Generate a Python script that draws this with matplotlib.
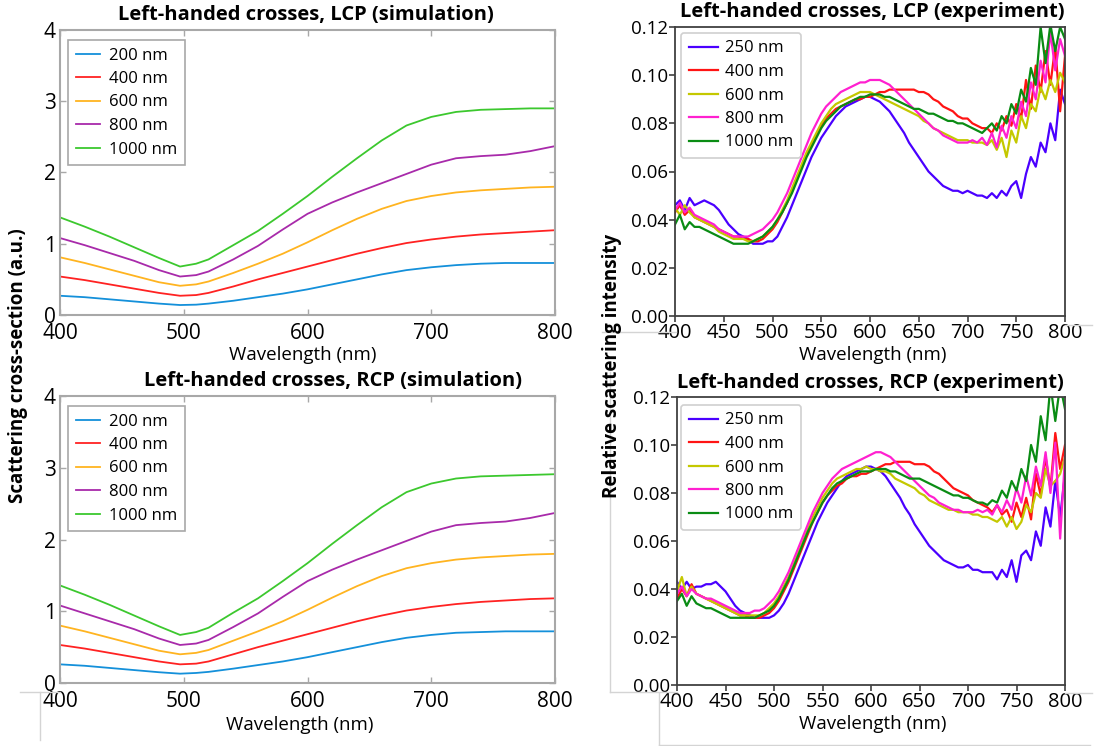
import numpy as np
import matplotlib
matplotlib.use("Agg")
import matplotlib.pyplot as plt
from matplotlib.lines import Line2D

plt.rcParams['font.family'] = ['Open Sans', 'DejaVu Sans']

# ---------------- simulation data ----------------
sim_wl = [400, 420, 440, 460, 480, 497, 510, 520, 540, 560, 580, 600, 620, 640, 660, 680, 700, 720, 740, 760, 780, 800]
sim_labels = ["200 nm", "400 nm", "600 nm", "800 nm", "1000 nm"]

lcp_200 = [0.27, 0.25, 0.22, 0.19, 0.16, 0.14, 0.145, 0.16, 0.20, 0.25, 0.30, 0.36, 0.43, 0.50, 0.57, 0.63, 0.67, 0.70, 0.72, 0.73, 0.73, 0.73]
lcp_400 = [0.54, 0.49, 0.43, 0.37, 0.31, 0.27, 0.28, 0.31, 0.40, 0.50, 0.59, 0.68, 0.77, 0.86, 0.94, 1.01, 1.06, 1.10, 1.13, 1.15, 1.17, 1.19]
lcp_600 = [0.81, 0.73, 0.64, 0.55, 0.46, 0.41, 0.43, 0.47, 0.59, 0.72, 0.86, 1.02, 1.19, 1.35, 1.49, 1.60, 1.67, 1.72, 1.75, 1.77, 1.79, 1.80]
lcp_800 = [1.08, 0.98, 0.87, 0.76, 0.63, 0.54, 0.56, 0.61, 0.78, 0.97, 1.20, 1.42, 1.58, 1.72, 1.85, 1.98, 2.11, 2.20, 2.23, 2.25, 2.30, 2.37]
lcp_1000 = [1.37, 1.24, 1.10, 0.95, 0.80, 0.68, 0.72, 0.78, 0.98, 1.18, 1.42, 1.67, 1.94, 2.20, 2.45, 2.66, 2.78, 2.85, 2.88, 2.89, 2.90, 2.90]

rcp_200 = [0.26, 0.24, 0.21, 0.18, 0.15, 0.13, 0.14, 0.155, 0.20, 0.25, 0.30, 0.36, 0.43, 0.50, 0.57, 0.63, 0.67, 0.70, 0.71, 0.72, 0.72, 0.72]
rcp_400 = [0.53, 0.48, 0.42, 0.36, 0.30, 0.26, 0.27, 0.30, 0.40, 0.50, 0.59, 0.68, 0.77, 0.86, 0.94, 1.01, 1.06, 1.10, 1.13, 1.15, 1.17, 1.18]
rcp_600 = [0.80, 0.72, 0.63, 0.54, 0.45, 0.40, 0.42, 0.46, 0.59, 0.72, 0.86, 1.02, 1.19, 1.35, 1.49, 1.60, 1.67, 1.72, 1.75, 1.77, 1.79, 1.80]
rcp_800 = [1.08, 0.97, 0.86, 0.75, 0.62, 0.53, 0.55, 0.60, 0.78, 0.97, 1.20, 1.42, 1.58, 1.72, 1.85, 1.98, 2.11, 2.20, 2.23, 2.25, 2.30, 2.37]
rcp_1000 = [1.36, 1.23, 1.09, 0.94, 0.79, 0.67, 0.71, 0.77, 0.98, 1.18, 1.42, 1.67, 1.94, 2.20, 2.45, 2.66, 2.78, 2.85, 2.88, 2.89, 2.90, 2.91]

# ---------------- experiment data (every 5 nm, 400..800) ----------------
exp_wl = np.arange(400, 801, 5)
exp_labels = ["250 nm", "400 nm", "600 nm", "800 nm", "1000 nm"]

lcp_e250 = [0.046, 0.048, 0.044, 0.049, 0.046, 0.047, 0.048, 0.047, 0.046, 0.044, 0.041, 0.038, 0.036, 0.034, 0.033, 0.032,
            0.030, 0.030, 0.030, 0.031, 0.031, 0.033, 0.037, 0.041, 0.046, 0.051, 0.056, 0.061, 0.066, 0.070, 0.074, 0.077,
            0.080, 0.083, 0.085, 0.087, 0.088, 0.089, 0.090, 0.091, 0.091, 0.090, 0.089, 0.087, 0.085, 0.082, 0.079, 0.076,
            0.072, 0.069, 0.066, 0.063, 0.060, 0.058, 0.056, 0.054, 0.053, 0.052, 0.052, 0.051, 0.052, 0.051, 0.050, 0.050,
            0.049, 0.051, 0.049, 0.052, 0.050, 0.054, 0.056, 0.049, 0.059, 0.066, 0.062, 0.072, 0.068, 0.080, 0.073, 0.094, 0.088]
lcp_e400 = [0.043, 0.046, 0.042, 0.044, 0.041, 0.040, 0.039, 0.038, 0.037, 0.036, 0.035, 0.034, 0.033, 0.033, 0.032, 0.032,
            0.031, 0.031, 0.032, 0.034, 0.036, 0.039, 0.043, 0.047, 0.052, 0.057, 0.062, 0.067, 0.071, 0.075, 0.079, 0.082,
            0.084, 0.086, 0.087, 0.088, 0.089, 0.090, 0.090, 0.091, 0.091, 0.092, 0.093, 0.093, 0.094, 0.094, 0.094, 0.094,
            0.094, 0.094, 0.093, 0.093, 0.092, 0.090, 0.089, 0.087, 0.086, 0.085, 0.083, 0.082, 0.082, 0.080, 0.079, 0.078,
            0.078, 0.076, 0.080, 0.077, 0.083, 0.079, 0.088, 0.082, 0.098, 0.086, 0.104, 0.093, 0.110, 0.096, 0.112, 0.085, 0.108]
lcp_e600 = [0.045, 0.042, 0.046, 0.043, 0.041, 0.040, 0.039, 0.038, 0.037, 0.035, 0.034, 0.033, 0.032, 0.032, 0.032, 0.031,
            0.031, 0.032, 0.033, 0.035, 0.037, 0.040, 0.044, 0.048, 0.053, 0.058, 0.063, 0.068, 0.072, 0.076, 0.080, 0.083,
            0.086, 0.088, 0.089, 0.090, 0.091, 0.092, 0.093, 0.093, 0.093, 0.092, 0.091, 0.090, 0.089, 0.088, 0.087, 0.086,
            0.085, 0.084, 0.083, 0.081, 0.080, 0.078, 0.077, 0.076, 0.075, 0.074, 0.073, 0.073, 0.073, 0.072, 0.072, 0.072,
            0.071, 0.073, 0.069, 0.074, 0.066, 0.077, 0.072, 0.083, 0.078, 0.088, 0.085, 0.095, 0.090, 0.098, 0.093, 0.101, 0.097]
lcp_e800 = [0.044, 0.047, 0.043, 0.045, 0.042, 0.041, 0.040, 0.039, 0.038, 0.036, 0.035, 0.034, 0.033, 0.033, 0.033, 0.033,
            0.034, 0.035, 0.036, 0.038, 0.040, 0.043, 0.047, 0.051, 0.056, 0.061, 0.066, 0.071, 0.076, 0.080, 0.084, 0.087,
            0.089, 0.091, 0.093, 0.094, 0.095, 0.096, 0.097, 0.097, 0.098, 0.098, 0.098, 0.097, 0.096, 0.094, 0.092, 0.090,
            0.088, 0.086, 0.084, 0.082, 0.080, 0.078, 0.077, 0.075, 0.074, 0.073, 0.072, 0.072, 0.072, 0.073, 0.072, 0.074,
            0.071, 0.076, 0.070, 0.079, 0.074, 0.083, 0.078, 0.089, 0.083, 0.097, 0.090, 0.106, 0.097, 0.118, 0.102, 0.115, 0.108]
lcp_e1000 = [0.038, 0.042, 0.036, 0.039, 0.037, 0.037, 0.036, 0.035, 0.034, 0.033, 0.032, 0.031, 0.030, 0.030, 0.030, 0.030,
             0.031, 0.032, 0.033, 0.035, 0.037, 0.040, 0.043, 0.047, 0.051, 0.056, 0.061, 0.066, 0.070, 0.074, 0.078, 0.081,
             0.083, 0.085, 0.087, 0.088, 0.089, 0.090, 0.091, 0.091, 0.092, 0.092, 0.092, 0.091, 0.091, 0.090, 0.089, 0.088,
             0.087, 0.086, 0.086, 0.085, 0.084, 0.084, 0.083, 0.082, 0.081, 0.081, 0.080, 0.080, 0.079, 0.078, 0.077, 0.076,
             0.078, 0.080, 0.077, 0.083, 0.080, 0.088, 0.084, 0.094, 0.089, 0.103, 0.096, 0.120, 0.105, 0.121, 0.110, 0.120, 0.115]

rcp_e250 = [0.043, 0.040, 0.043, 0.040, 0.041, 0.041, 0.042, 0.042, 0.043, 0.041, 0.039, 0.036, 0.033, 0.031, 0.030, 0.029,
            0.028, 0.028, 0.028, 0.028, 0.029, 0.031, 0.034, 0.038, 0.043, 0.048, 0.053, 0.058, 0.063, 0.068, 0.072, 0.076,
            0.079, 0.082, 0.085, 0.087, 0.088, 0.089, 0.090, 0.091, 0.091, 0.090, 0.089, 0.087, 0.084, 0.081, 0.078, 0.074,
            0.071, 0.067, 0.064, 0.061, 0.058, 0.056, 0.054, 0.052, 0.051, 0.050, 0.049, 0.049, 0.050, 0.048, 0.048, 0.047,
            0.047, 0.047, 0.044, 0.048, 0.045, 0.052, 0.043, 0.054, 0.056, 0.052, 0.064, 0.058, 0.074, 0.066, 0.085, 0.070, 0.088]
rcp_e400 = [0.036, 0.040, 0.037, 0.042, 0.038, 0.037, 0.036, 0.035, 0.034, 0.033, 0.032, 0.031, 0.030, 0.029, 0.029, 0.028,
            0.028, 0.028, 0.029, 0.030, 0.032, 0.035, 0.039, 0.043, 0.048, 0.053, 0.058, 0.063, 0.068, 0.072, 0.076, 0.079,
            0.081, 0.083, 0.084, 0.086, 0.087, 0.087, 0.088, 0.088, 0.089, 0.090, 0.091, 0.092, 0.092, 0.093, 0.093, 0.093,
            0.093, 0.092, 0.092, 0.092, 0.091, 0.089, 0.088, 0.086, 0.084, 0.082, 0.081, 0.080, 0.079, 0.077, 0.076, 0.075,
            0.074, 0.072, 0.075, 0.071, 0.073, 0.068, 0.076, 0.070, 0.078, 0.069, 0.088, 0.079, 0.095, 0.082, 0.105, 0.090, 0.100]
rcp_e600 = [0.039, 0.045, 0.037, 0.041, 0.038, 0.037, 0.036, 0.035, 0.034, 0.033, 0.032, 0.031, 0.030, 0.029, 0.029, 0.029,
            0.029, 0.029, 0.030, 0.032, 0.034, 0.037, 0.041, 0.045, 0.050, 0.055, 0.060, 0.065, 0.070, 0.074, 0.078, 0.081,
            0.084, 0.086, 0.087, 0.088, 0.089, 0.090, 0.090, 0.091, 0.090, 0.090, 0.089, 0.089, 0.088, 0.086, 0.085, 0.084,
            0.083, 0.082, 0.080, 0.079, 0.077, 0.076, 0.075, 0.074, 0.073, 0.073, 0.072, 0.072, 0.072, 0.071, 0.071, 0.070,
            0.070, 0.069, 0.068, 0.070, 0.066, 0.070, 0.065, 0.068, 0.075, 0.072, 0.080, 0.078, 0.090, 0.083, 0.085, 0.088, 0.095]
rcp_e800 = [0.038, 0.041, 0.037, 0.040, 0.038, 0.037, 0.036, 0.036, 0.035, 0.034, 0.033, 0.032, 0.031, 0.030, 0.030, 0.030,
            0.031, 0.031, 0.032, 0.034, 0.036, 0.039, 0.043, 0.047, 0.052, 0.057, 0.062, 0.067, 0.072, 0.076, 0.080, 0.083,
            0.086, 0.088, 0.090, 0.091, 0.092, 0.093, 0.094, 0.095, 0.096, 0.097, 0.097, 0.096, 0.095, 0.093, 0.091, 0.089,
            0.087, 0.085, 0.083, 0.081, 0.079, 0.078, 0.076, 0.075, 0.074, 0.073, 0.073, 0.072, 0.072, 0.072, 0.073, 0.072,
            0.073, 0.071, 0.075, 0.072, 0.077, 0.073, 0.082, 0.076, 0.087, 0.079, 0.091, 0.083, 0.097, 0.080, 0.101, 0.061, 0.095]
rcp_e1000 = [0.035, 0.038, 0.033, 0.037, 0.034, 0.033, 0.032, 0.032, 0.031, 0.030, 0.029, 0.028, 0.028, 0.028, 0.028, 0.028,
             0.028, 0.029, 0.030, 0.031, 0.033, 0.036, 0.040, 0.044, 0.049, 0.054, 0.059, 0.064, 0.068, 0.072, 0.076, 0.079,
             0.082, 0.084, 0.085, 0.086, 0.087, 0.088, 0.089, 0.089, 0.089, 0.090, 0.090, 0.090, 0.089, 0.089, 0.088, 0.087,
             0.086, 0.086, 0.086, 0.085, 0.084, 0.083, 0.082, 0.081, 0.080, 0.079, 0.079, 0.078, 0.078, 0.077, 0.076, 0.076,
             0.075, 0.077, 0.076, 0.081, 0.078, 0.085, 0.081, 0.090, 0.085, 0.100, 0.093, 0.112, 0.102, 0.125, 0.110, 0.125, 0.115]

sim_colors = ['#1490DA', '#FF2222', '#FFB420', '#A82AAA', '#3CC82E']
exp_colors = ['#4A00FF', '#FF1414', '#C4C800', '#FF20D0', '#0A8C14']

W, H = 1097, 746
fig = plt.figure(figsize=(W / 100, H / 100), dpi=100)


def fx(px):
    return px / W


def fy(py):
    return 1 - py / H


def box(l, t, r, b):
    return [fx(l), fy(b), fx(r) - fx(l), fy(t) - fy(b)]


def add_legend(ax, xy, fancy, edge, hlen, tpad):
    leg = ax.legend(loc='upper left', bbox_to_anchor=(fx(xy[0]), fy(xy[1])),
                    bbox_transform=fig.transFigure, borderaxespad=0, fontsize=12,
                    fancybox=fancy, edgecolor=edge, framealpha=1, handlelength=hlen,
                    handletextpad=tpad, labelspacing=0.45, borderpad=0.45)
    leg.get_frame().set_linewidth(1.2)


def sim_axes(rect, series, title, title_xy, xlab_xy, leg_xy):
    ax = fig.add_axes(rect)
    for vals, c, lab in zip(series, sim_colors, sim_labels):
        ax.plot(sim_wl, vals, color=c, lw=1.3, label=lab)
    ax.set_xlim(400, 800)
    ax.set_ylim(0, 4)
    ax.set_xticks([400, 500, 600, 700, 800])
    ax.set_yticks([0, 1, 2, 3, 4])
    for s in ax.spines.values():
        s.set_color('#a8a8a8')
        s.set_linewidth(1.5)
    ax.tick_params(direction='in', length=4, width=1, color='#a8a8a8', labelsize=15,
                   top=True, right=True)
    ax.tick_params(axis='y', pad=3)
    ax.tick_params(axis='x', pad=6)
    add_legend(ax, leg_xy, False, '#a8a8a8', 1.45, 0.55)
    fig.text(fx(title_xy[0]), fy(title_xy[1]), title, ha='center', va='center', fontsize=14.5, weight='bold')
    fig.text(fx(xlab_xy[0]), fy(xlab_xy[1]), "Wavelength (nm)", ha='center', va='center', fontsize=13.5)
    return ax


def exp_axes(rect, series, title, title_xy, xlab_xy, leg_xy):
    ax = fig.add_axes(rect)
    for vals, c, lab in zip(series, exp_colors, exp_labels):
        ax.plot(exp_wl, vals, color=c, lw=1.6, label=lab)
    ax.set_xlim(400, 800)
    ax.set_ylim(0, 0.12)
    ax.set_xticks(np.arange(400, 801, 50))
    ax.set_yticks([0, 0.02, 0.04, 0.06, 0.08, 0.10, 0.12])
    ax.yaxis.set_major_formatter(matplotlib.ticker.FormatStrFormatter('%.2f'))
    for s in ax.spines.values():
        s.set_color('#404040')
        s.set_linewidth(1.3)
    ax.tick_params(direction='out', length=4, width=1.2, color='#404040', pad=1)
    ax.tick_params(axis='x', labelsize=14.5)
    ax.tick_params(axis='y', labelsize=13.5)
    add_legend(ax, leg_xy, True, '#d0d0d0', 1.75, 0.45)
    fig.text(fx(title_xy[0]), fy(title_xy[1]), title, ha='center', va='center', fontsize=14.5, weight='bold')
    fig.text(fx(xlab_xy[0]), fy(xlab_xy[1]), "Wavelength (nm)", ha='center', va='center', fontsize=13.5)
    return ax


sim_axes(box(60, 30, 555, 315), [lcp_200, lcp_400, lcp_600, lcp_800, lcp_1000],
         "Left-handed crosses, LCP (simulation)", (306, 15), (303, 355), (68, 40))
sim_axes(box(60, 396, 555, 683), [rcp_200, rcp_400, rcp_600, rcp_800, rcp_1000],
         "Left-handed crosses, RCP (simulation)", (333, 381), (300, 725), (68, 406))
exp_axes(box(675, 27, 1065, 316), [lcp_e250, lcp_e400, lcp_e600, lcp_e800, lcp_e1000],
         "Left-handed crosses, LCP (experiment)", (872, 12), (873, 355), (681, 33))
exp_axes(box(677, 397, 1065, 685), [rcp_e250, rcp_e400, rcp_e600, rcp_e800, rcp_e1000],
         "Left-handed crosses, RCP (experiment)", (870, 383), (873, 724), (681, 405))

fig.text(fx(18), fy(366), "Scattering cross-section (a.u.)", rotation=90, ha='center', va='center',
         fontsize=13.5, weight='bold')
fig.text(fx(612), fy(366), "Relative scattering intensity", rotation=90, ha='center', va='center',
         fontsize=13.5, weight='bold')

# faint frame remnants seen in the source image
gray = '#d4d4d4'
for (x0, y0), (x1, y1) in [((610, 372), (610, 692)), ((610, 692), (677, 692)), ((659, 693), (659, 745)),
                           ((659, 745), (1090, 745)), ((1065, 693), (1092, 693)), ((40, 692), (40, 740)),
                           ((20, 692), (60, 692)), ((602, 332), (676, 332)), ((1065, 325), (1092, 325))]:
    fig.add_artist(Line2D([fx(x0), fx(x1)], [fy(y0), fy(y1)], color=gray, lw=1))

fig.savefig("out.png", dpi=100)
